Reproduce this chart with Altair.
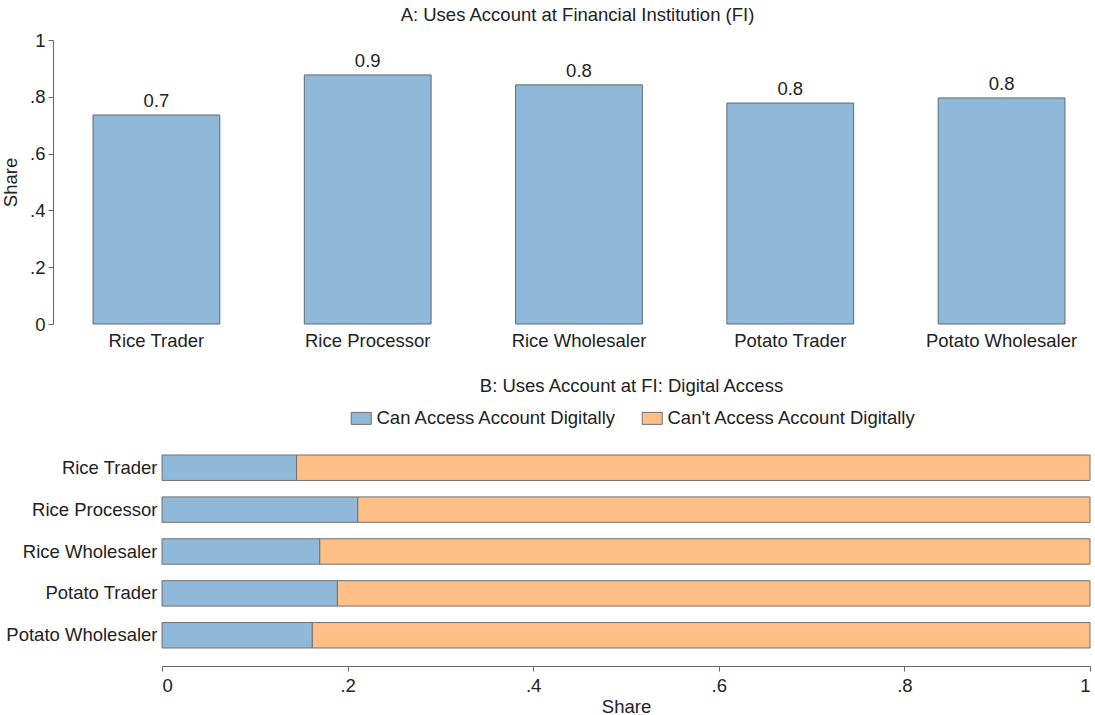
import altair as alt
import pandas as pd

groups = ["Rice Trader", "Rice Processor", "Rice Wholesaler", "Potato Trader", "Potato Wholesaler"]
fi_share = [0.736, 0.877, 0.842, 0.778, 0.796]
digital_yes = [0.145, 0.211, 0.170, 0.189, 0.162]
digital_no = [0.855, 0.789, 0.830, 0.811, 0.838]
series = ["Can Access Account Digitally", "Can't Access Account Digitally"]
colors = ["#90b9d9", "#ffbf86"]
share_ticks = [0, 0.2, 0.4, 0.6, 0.8, 1.0]

FONT = "Liberation Sans"
FS = 18.5
TXT = "#222222"
AX = "#666666"

df_a = pd.DataFrame({"group": groups, "share": fi_share})
rows = []
for g, a, b in zip(groups, digital_yes, digital_no):
    rows.append({"group": g, "series": series[0], "share": a, "ord": 0})
    rows.append({"group": g, "series": series[1], "share": b, "ord": 1})
df_b = pd.DataFrame(rows)

lbl_expr = "datum.value == 0 ? '0' : datum.value == 1 ? '1' : substring(format(datum.value, '.1f'), 1)"

W = 1037
base_a = alt.Chart(df_a)
bars_a = base_a.mark_bar(color=colors[0], stroke="#5d6873", strokeWidth=1).encode(
    x=alt.X("group:N", sort=groups, title=None,
            scale=alt.Scale(paddingInner=0.4, paddingOuter=0.154, align=0.615),
            axis=alt.Axis(domain=False, ticks=False, labelAngle=0, labelPadding=7,
                          labelFontSize=FS, labelColor=TXT, labelFont=FONT)),
    y=alt.Y("share:Q", title="Share", scale=alt.Scale(domain=[0, 1], nice=False),
            axis=alt.Axis(values=share_ticks, labelExpr=lbl_expr, grid=False,
                          domainColor=AX, tickColor=AX, tickSize=5, labelFontSize=FS,
                          labelColor=TXT, labelFont=FONT, titleFontSize=FS, titleColor=TXT,
                          titleFont=FONT, titleFontWeight="normal", labelPadding=3, titlePadding=9)),
)
text_a = base_a.mark_text(dy=-14, fontSize=FS, color=TXT, font=FONT).encode(
    x=alt.X("group:N", sort=groups),
    y="share:Q",
    text=alt.Text("share:Q", format=".1f"),
)
chart_a = alt.layer(bars_a, text_a).properties(
    width=W, height=284,
    title=alt.TitleParams("A: Uses Account at Financial Institution (FI)", fontSize=FS,
                          fontWeight="normal", font=FONT, color=TXT, offset=7, dx=6),
)

bars_b = alt.Chart(df_b).mark_bar(stroke="#707070", strokeWidth=1).encode(
    y=alt.Y("group:N", sort=groups, title=None,
            scale=alt.Scale(paddingInner=0.393, paddingOuter=0.43),
            axis=alt.Axis(domain=False, ticks=False, labelFontSize=FS, labelColor=TXT,
                          labelFont=FONT, labelPadding=5, offset=-109)),
    x=alt.X("share:Q", stack="zero", title="Share",
            scale=alt.Scale(domain=[0, 1], nice=False, range=[109, W]),
            axis=alt.Axis(values=share_ticks, labelExpr=lbl_expr, grid=False,
                          domainColor=AX, tickColor=AX, tickSize=5, labelFontSize=FS,
                          labelColor=TXT, labelFont=FONT, titleFontSize=FS, titleColor=TXT,
                          titleFont=FONT, titleFontWeight="normal", labelPadding=5, titlePadding=3)),
    color=alt.Color("series:N", scale=alt.Scale(domain=series, range=colors),
                    legend=alt.Legend(title=None, orient="none", direction="horizontal",
                                      legendX=299, legendY=-28, padding=0,
                                      symbolType="M-1.67,-1H1.67V1H-1.67Z",
                                      symbolSize=144, symbolStrokeColor="#707070",
                                      symbolStrokeWidth=1, labelFontSize=FS, labelColor=TXT,
                                      labelFont=FONT, columnPadding=22, labelOffset=6,
                                      symbolOpacity=1, labelLimit=400)),
    order=alt.Order("ord:Q"),
)
chart_b = bars_b.properties(
    width=W, height=229,
    title=alt.TitleParams("B: Uses Account at FI: Digital Access", fontSize=FS,
                          fontWeight="normal", font=FONT, color=TXT, offset=14, dx=60),
)

chart = alt.vconcat(chart_a, chart_b, spacing=26).resolve_scale(
    color="independent"
).properties(
    padding={"left": 1, "top": 5, "right": 0, "bottom": 0}
).configure_view(stroke=None)

chart.save("out.html", embed_options={"renderer": "svg", "actions": False})
